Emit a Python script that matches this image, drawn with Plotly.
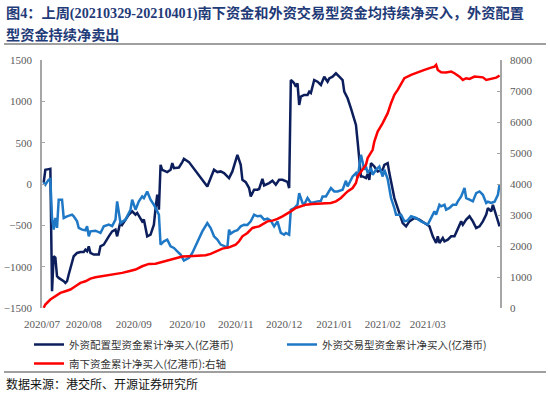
import plotly.graph_objects as go

# ---------------- data ----------------
navy_dates = [
    "2020-07-02", "2020-07-03", "2020-07-05", "2020-07-06", "2020-07-07", "2020-07-08", "2020-07-09",
    "2020-07-10", "2020-07-11", "2020-07-13", "2020-07-14", "2020-07-15", "2020-07-16", "2020-07-17",
    "2020-07-19", "2020-07-20", "2020-07-22", "2020-07-24", "2020-07-26", "2020-07-27", "2020-07-28",
    "2020-07-29", "2020-07-30",
    "2020-08-01", "2020-08-04", "2020-08-05", "2020-08-07", "2020-08-08", "2020-08-10", "2020-08-12",
    "2020-08-14", "2020-08-15", "2020-08-17", "2020-08-18", "2020-08-20", "2020-08-22", "2020-08-24",
    "2020-08-26", "2020-08-27", "2020-08-29", "2020-08-30", "2020-08-31",
    "2020-09-01", "2020-09-02", "2020-09-04", "2020-09-06", "2020-09-07", "2020-09-08", "2020-09-09",
    "2020-09-10", "2020-09-11", "2020-09-14", "2020-09-16", "2020-09-17", "2020-09-18", "2020-09-21",
    "2020-09-23", "2020-09-24", "2020-09-27", "2020-09-29",
    "2020-10-03", "2020-10-07", "2020-10-08", "2020-10-10", "2020-10-12", "2020-10-14", "2020-10-16",
    "2020-10-18", "2020-10-21", "2020-10-23", "2020-10-25", "2020-10-26", "2020-10-28", "2020-10-29",
    "2020-10-31",
    "2020-11-02", "2020-11-03", "2020-11-05", "2020-11-07", "2020-11-08", "2020-11-10", "2020-11-11",
    "2020-11-14", "2020-11-16", "2020-11-18", "2020-11-20", "2020-11-22", "2020-11-24", "2020-11-25",
    "2020-11-26", "2020-11-27", "2020-11-28", "2020-11-29", "2020-11-30",
    "2020-12-01", "2020-12-02", "2020-12-03", "2020-12-05", "2020-12-07", "2020-12-08", "2020-12-09",
    "2020-12-11", "2020-12-13", "2020-12-15", "2020-12-16", "2020-12-17", "2020-12-19", "2020-12-20",
    "2020-12-22", "2020-12-24", "2020-12-26", "2020-12-28", "2020-12-29", "2020-12-31",
    "2021-01-02", "2021-01-04", "2021-01-05", "2021-01-06", "2021-01-07", "2021-01-08", "2021-01-09",
    "2021-01-11", "2021-01-12", "2021-01-13", "2021-01-14", "2021-01-16", "2021-01-18", "2021-01-21",
    "2021-01-22", "2021-01-24", "2021-01-25", "2021-01-27", "2021-01-28", "2021-01-30",
    "2021-02-01", "2021-02-02", "2021-02-04", "2021-02-06", "2021-02-09", "2021-02-12", "2021-02-15",
    "2021-02-18", "2021-02-20", "2021-02-22", "2021-02-23", "2021-02-24", "2021-02-26", "2021-02-27",
    "2021-03-01", "2021-03-03", "2021-03-05", "2021-03-07", "2021-03-09", "2021-03-10", "2021-03-12",
    "2021-03-14", "2021-03-16", "2021-03-18", "2021-03-20", "2021-03-22", "2021-03-24", "2021-03-25",
    "2021-03-27", "2021-03-28", "2021-03-30", "2021-04-01",
]
navy_values = [
    15, 172, 180, 184, -1297, -874, -890,
    -1116, -1136, -1156, -1176, -1196, -1176, -1095,
    -935, -874, -834, -822, -822, -794, -814,
    -754, -834,
    -854, -854, -754, -733, -693, -633, -573,
    -552, -633, -452, -492, -431, -371, -331,
    -371, -350, -411, -452, -430,
    -532, -633, -613, -492, -291, -130, -310,
    232, 172, 144, 172, 253, 192, 200,
    265, 305, 265, 212,
    112, 11, -30, 72, 172, 144, 152,
    132, 72, 152, 281, 353, 232, 51,
    23,
    -49, -150, -69, -69, -60, 63, -17,
    11, 39, -9, 51, 51, 31, 25,
    -49, 1258, 1240, 1218, 1178,
    1218, 957, 1057, 1077, 1077, 1117, 1100,
    1258, 1238, 1198, 1238, 1298, 1238, 1278,
    1298, 1339, 1298, 1258, 1117, 1037,
    916, 796, 715, 514, 272, 91, 91,
    72, 120, 51, 253, 212, 152, 172,
    232, 253, 132, -49, -170, -291,
    -411, -472, -512, -452, -411, -431, -472,
    -512, -633, -713, -633, -713, -653, -693,
    -673, -633, -633, -552, -452, -492, -431,
    -391, -452, -532, -512, -452, -371, -291,
    -331, -251, -371, -512,
]

blue_dates = [
    "2020-07-02", "2020-07-03", "2020-07-04", "2020-07-05", "2020-07-06", "2020-07-07", "2020-07-08",
    "2020-07-09", "2020-07-10", "2020-07-11", "2020-07-13", "2020-07-14", "2020-07-16", "2020-07-19",
    "2020-07-20", "2020-07-22", "2020-07-23", "2020-07-25", "2020-07-27", "2020-07-28", "2020-07-29",
    "2020-07-30",
    "2020-08-02", "2020-08-05", "2020-08-07", "2020-08-10", "2020-08-12", "2020-08-14", "2020-08-15",
    "2020-08-17", "2020-08-20", "2020-08-23", "2020-08-24", "2020-08-26", "2020-08-28", "2020-08-30",
    "2020-08-31",
    "2020-09-02", "2020-09-04", "2020-09-06", "2020-09-09", "2020-09-10", "2020-09-12", "2020-09-14",
    "2020-09-16", "2020-09-18", "2020-09-20", "2020-09-22", "2020-09-24", "2020-09-27", "2020-09-29",
    "2020-10-02", "2020-10-05", "2020-10-08", "2020-10-10", "2020-10-12", "2020-10-14", "2020-10-16",
    "2020-10-18", "2020-10-20", "2020-10-21", "2020-10-22", "2020-10-24", "2020-10-26", "2020-10-28",
    "2020-10-30",
    "2020-11-01", "2020-11-03", "2020-11-05", "2020-11-07", "2020-11-09", "2020-11-11", "2020-11-13",
    "2020-11-15", "2020-11-17", "2020-11-19", "2020-11-21", "2020-11-23", "2020-11-24", "2020-11-26",
    "2020-11-27", "2020-11-29",
    "2020-12-01", "2020-12-02", "2020-12-04", "2020-12-05", "2020-12-07", "2020-12-09", "2020-12-13",
    "2020-12-15", "2020-12-16", "2020-12-18", "2020-12-21", "2020-12-23", "2020-12-25", "2020-12-28",
    "2020-12-30", "2020-12-31",
    "2021-01-02", "2021-01-03", "2021-01-05", "2021-01-06", "2021-01-08", "2021-01-09", "2021-01-10",
    "2021-01-11", "2021-01-12", "2021-01-14", "2021-01-15", "2021-01-17", "2021-01-19", "2021-01-21",
    "2021-01-22", "2021-01-24", "2021-01-26", "2021-01-28", "2021-01-29",
    "2021-02-01", "2021-02-03", "2021-02-05", "2021-02-07", "2021-02-10", "2021-02-13", "2021-02-17",
    "2021-02-19", "2021-02-21", "2021-02-22", "2021-02-24", "2021-02-25", "2021-02-27", "2021-02-28",
    "2021-03-02", "2021-03-04", "2021-03-06", "2021-03-07", "2021-03-09", "2021-03-11", "2021-03-12",
    "2021-03-14", "2021-03-16", "2021-03-18", "2021-03-20", "2021-03-22", "2021-03-24", "2021-03-25",
    "2021-03-27", "2021-03-29", "2021-03-31", "2021-04-01",
]
blue_values = [
    20, -9, 23, 51, 60, -411, -552,
    -411, -530, -190, -190, -411, -391, -371,
    -390, -452, -532, -552, -560, -512, -633,
    -573,
    -565, -592, -512, -492, -510, -431, -210,
    -472, -431, -311, -190, -311, -210, -150,
    -170,
    -90, -190, -251, -371, -733, -693, -673,
    -754, -774, -814, -854, -926, -894, -834,
    -693, -573, -472, -532, -633, -673, -733,
    -754, -766, -552, -600, -573, -560, -512,
    -492,
    -495, -452, -371, -391, -385, -431, -420,
    -444, -512, -452, -592, -613, -592, -613,
    -311, -291,
    -251, -110, -230, -250, -170, -230, -210,
    -205, -150, -150, -49, -90, -90, -69,
    39, -30,
    51, 91, 132, 72, 353, 253, 172,
    212, 132, 192, 112, 172, 212, 91,
    172, 60, -170, -291, -371,
    -371, -452, -440, -391, -411, -452, -492,
    -411, -331, -371, -251, -270, -251, -311,
    -290, -251, -250, -210, -150, -49, -170,
    -190, -210, -110, -90, -130, -230, -215,
    -230, -215, -130, -5,
]

red_dates = [
    "2020-07-02", "2020-07-03", "2020-07-06", "2020-07-09", "2020-07-12", "2020-07-15", "2020-07-18",
    "2020-07-21", "2020-07-24", "2020-07-27", "2020-07-30",
    "2020-08-02", "2020-08-06", "2020-08-10", "2020-08-14", "2020-08-18", "2020-08-22", "2020-08-26",
    "2020-08-30",
    "2020-09-03", "2020-09-07", "2020-09-11", "2020-09-15", "2020-09-19", "2020-09-23", "2020-09-27",
    "2020-10-03", "2020-10-07", "2020-10-10", "2020-10-13", "2020-10-17", "2020-10-21", "2020-10-25",
    "2020-10-27", "2020-10-29",
    "2020-11-01", "2020-11-04", "2020-11-08", "2020-11-10", "2020-11-13", "2020-11-16", "2020-11-19",
    "2020-11-22", "2020-11-24", "2020-11-27", "2020-11-30",
    "2020-12-03", "2020-12-06", "2020-12-10", "2020-12-14", "2020-12-18", "2020-12-21", "2020-12-24",
    "2020-12-27", "2020-12-29", "2020-12-31",
    "2021-01-03", "2021-01-05", "2021-01-06", "2021-01-09", "2021-01-11", "2021-01-12", "2021-01-15",
    "2021-01-16", "2021-01-18", "2021-01-21", "2021-01-22", "2021-01-24", "2021-01-26", "2021-01-28",
    "2021-01-30",
    "2021-02-01", "2021-02-03", "2021-02-07", "2021-02-11", "2021-02-15", "2021-02-19", "2021-02-21",
    "2021-02-22", "2021-02-23", "2021-02-25", "2021-02-28",
    "2021-03-03", "2021-03-05", "2021-03-08", "2021-03-10", "2021-03-12", "2021-03-14", "2021-03-17",
    "2021-03-20", "2021-03-22", "2021-03-24", "2021-03-26", "2021-03-28", "2021-03-30", "2021-04-01",
]
red_values = [
    6, 113, 274, 380, 489, 541, 596,
    702, 811, 863, 950,
    992, 1024, 1079, 1090, 1133, 1185, 1240,
    1346,
    1423, 1430, 1487, 1562, 1616, 1658, 1668,
    1690, 1701, 1745, 1829, 1916, 1958, 2045,
    2151, 2312,
    2421, 2582, 2634, 2689, 2795, 2818, 2872,
    2956, 3011, 3117, 3226,
    3278, 3333, 3355, 3360, 3370, 3387, 3439,
    3548, 3655, 3761,
    3870, 4031, 4244, 4460, 4621, 4836, 5104,
    5371, 5693, 5963, 6070, 6285, 6607, 6875,
    7036,
    7251, 7412, 7519, 7606, 7680, 7754, 7786,
    7841, 7680, 7606, 7600,
    7625, 7573, 7464, 7358, 7412, 7390, 7464,
    7464, 7440, 7358, 7390, 7410, 7432, 7497,
]

series_names = [
    "外资配置型资金累计净买入(亿港币)",
    "外资交易型资金累计净买入(亿港币)",
    "南下资金累计净买入(亿港币):右轴",
]

month_ticks = ["2020-07-01", "2020-08-01", "2020-09-01", "2020-10-01", "2020-11-01",
               "2020-12-01", "2021-01-01", "2021-02-01", "2021-03-01"]
label_dates = ["2020-07-01", "2020-07-26", "2020-08-25", "2020-09-26", "2020-10-25",
               "2020-11-23", "2020-12-23", "2021-01-21", "2021-02-17"]
label_texts = ["2020/07", "2020/08", "2020/09", "2020/10", "2020/11",
               "2020/12", "2021/01", "2021/02", "2021/03"]

title_line1 = "<b>图4：上周(20210329-20210401)南下资金和外资交易型资金均持续净买入，外资配置</b>"
title_line2 = "<b>型资金持续净卖出</b>"
source_text = "数据来源：港交所、开源证券研究所"

# ---------------- figure ----------------
W, H = 550, 394
ML, MR, MT, MB = 42, 50, 60, 86
pw = W - ML - MR
ph = H - MT - MB


def px_x(x):
    return (x - ML) / pw


def px_y(y):
    return (MT + ph - y) / ph


NAVY = "#0c1f5c"
BLUE = "#1f78c6"
RED = "#ff0000"
AXIS = "#a6a6a6"
TICKC = "#595959"
TITLEC = "#1f3b78"
SERIF = "Liberation Serif, Times New Roman, Noto Sans CJK SC, serif"
CJK = "Noto Sans CJK SC, sans-serif"
x_range = ["2020-07-01", "2021-04-01 06:00"]
legend_font = dict(family=CJK, size=10.5, color="#333333")

fig = go.Figure()
fig.add_trace(go.Scatter(x=navy_dates, y=navy_values, mode="lines", name=series_names[0],
                         line=dict(color=NAVY, width=2.5), yaxis="y", xaxis="x", legend="legend"))
fig.add_trace(go.Scatter(x=blue_dates, y=blue_values, mode="lines", name=series_names[1],
                         line=dict(color=BLUE, width=2.5), yaxis="y", xaxis="x", legend="legend2"))
fig.add_trace(go.Scatter(x=red_dates, y=red_values, mode="lines", name=series_names[2],
                         line=dict(color=RED, width=2.5), yaxis="y2", xaxis="x", legend="legend"))

fig.update_layout(
    width=W, height=H,
    margin=dict(l=ML, r=MR, t=MT, b=MB, autoexpand=False),
    paper_bgcolor="white", plot_bgcolor="white",
    showlegend=True,
    xaxis=dict(
        type="date", range=x_range, showgrid=False, zeroline=False, showline=False,
        tickmode="array", tickvals=label_dates, ticktext=label_texts, ticks="",
        tickfont=dict(family=SERIF, size=11, color=TICKC), ticklabelstandoff=8,
    ),
    xaxis2=dict(
        type="date", range=x_range, overlaying="x", anchor="free", position=0.5,
        showgrid=False, zeroline=False, showline=True, linecolor=AXIS, linewidth=1.5,
        tickmode="array", tickvals=month_ticks, ticks="inside", ticklen=4, tickwidth=1,
        tickcolor=AXIS, showticklabels=False,
    ),
    yaxis=dict(
        range=[-1500, 1500], dtick=500, tick0=0, showgrid=False, zeroline=False,
        showline=True, linecolor=AXIS, linewidth=1.5,
        ticks="inside", ticklen=3, tickcolor=AXIS, tickwidth=1,
        tickfont=dict(family=SERIF, size=11, color=TICKC), ticklabelstandoff=6,
    ),
    yaxis2=dict(
        range=[0, 8000], dtick=1000, tick0=0, overlaying="y", side="right", anchor="x",
        showgrid=False, zeroline=False, showline=True, linecolor=AXIS, linewidth=1.5,
        ticks="inside", ticklen=3, tickcolor=AXIS, tickwidth=1,
        tickfont=dict(family=SERIF, size=11, color=TICKC), ticklabelstandoff=6,
    ),
    legend=dict(
        orientation="v", x=px_x(29), xanchor="left", y=px_y(330), yanchor="top",
        font=legend_font, bgcolor="rgba(0,0,0,0)", tracegroupgap=0, itemwidth=30,
    ),
    legend2=dict(
        orientation="v", x=px_x(282), xanchor="left", y=px_y(330), yanchor="top",
        font=legend_font, bgcolor="rgba(0,0,0,0)", tracegroupgap=0, itemwidth=30,
    ),
    annotations=[
        dict(text=title_line1, xref="paper", yref="paper", x=px_x(4), y=px_y(13.5),
             xanchor="left", yanchor="middle", align="left", showarrow=False,
             font=dict(family=SERIF, size=14.2, color=TITLEC)),
        dict(text=title_line2, xref="paper", yref="paper", x=px_x(4), y=px_y(35),
             xanchor="left", yanchor="middle", align="left", showarrow=False,
             font=dict(family=SERIF, size=14.2, color=TITLEC)),
        dict(text=source_text, xref="paper", yref="paper", x=px_x(4), y=px_y(383),
             xanchor="left", yanchor="middle", align="left", showarrow=False,
             font=dict(family=CJK, size=12, color="#111111")),
    ],
    shapes=[
        dict(type="line", xref="paper", yref="paper", x0=px_x(4), x1=px_x(546),
             y0=px_y(44), y1=px_y(44), line=dict(color="#7f7f7f", width=1.5)),
        dict(type="line", xref="paper", yref="paper", x0=px_x(4), x1=px_x(546),
             y0=px_y(372), y1=px_y(372), line=dict(color="#7f7f7f", width=1.5)),
    ],
)

fig.write_html("out.html", config={"displayModeBar": False},
               post_script="document.body.style.margin='0';")
